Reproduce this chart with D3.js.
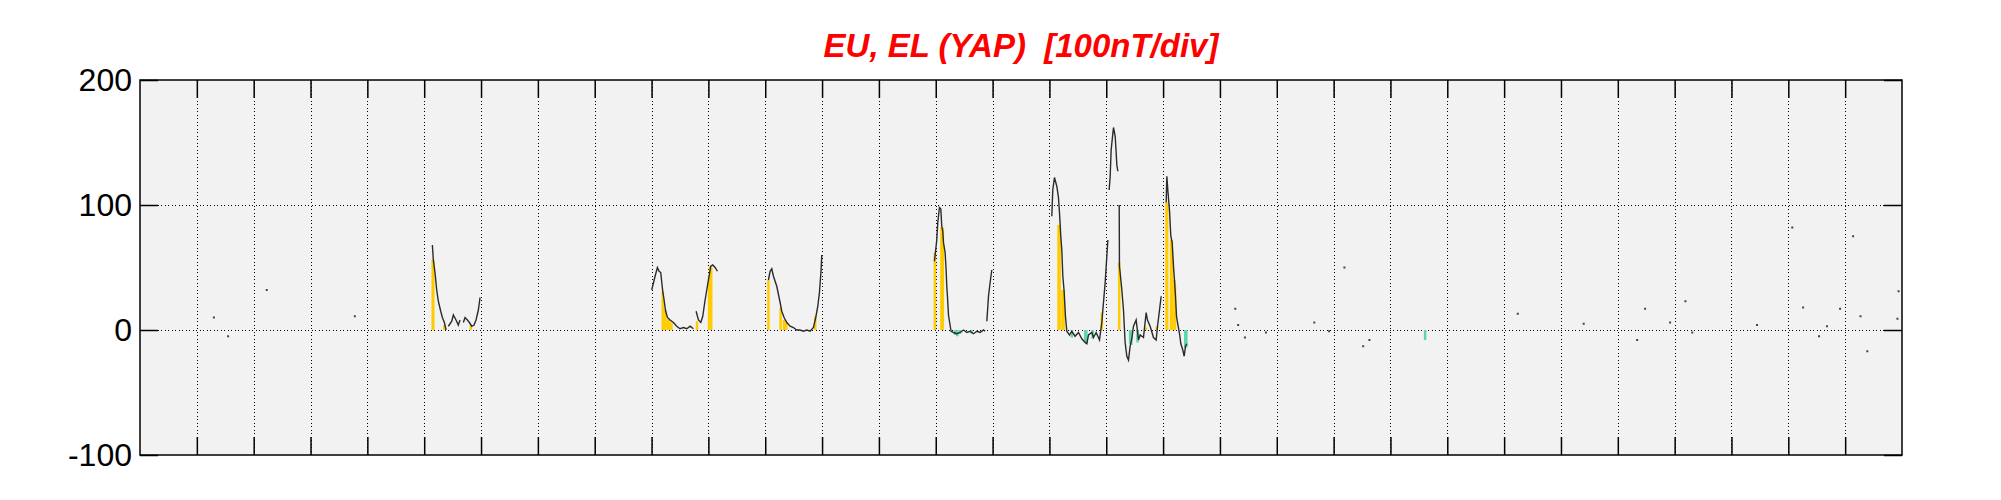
<!DOCTYPE html>
<html>
<head>
<meta charset="utf-8">
<script src="https://cdn.jsdelivr.net/npm/d3@7"></script>
<style>
  body { margin: 0; background: #fff; }
  text { font-family: "Liberation Sans", Arial, Helvetica, sans-serif; }
</style>
</head>
<body>
<svg id="chart" width="2001" height="500"></svg>
<script>
// Axis ticks
const dayTicks = d3.range(1, 31);
const nTTicks = [-100, 0, 100, 200];

// EU/EL trace (day of month, nT); null = data gap
const traceDay = [
  5.144, 5.161, 5.19, 5.22, 5.249, 5.291, 5.32, 5.355, 5.385, null, 5.425, 5.485, 5.513, 5.56, 5.6, 5.63, null, 5.689, 5.719, 5.76, 5.795, 5.837, 5.877, 5.912, 5.953, 5.983,
  null,
  9.003, 9.062, 9.103, 9.133, 9.162, 9.18, 9.197, 9.221, 9.244, 9.279, 9.326, 9.385, 9.443, 9.502, 9.561, 9.62, 9.678, 9.737, null, 9.784, 9.825, 9.866, 9.901, 9.942, 9.971, 10.012, 10.042, 10.077, 10.118, 10.159,
  null,
  11.056, 11.086, 11.115, 11.145, 11.174, 11.203, 11.262, 11.291, 11.332, 11.379, 11.438, 11.496, 11.555, 11.614, 11.672, 11.731, 11.79, 11.848, 11.889, 11.925, 11.954, 11.983, 11.995,
  null,
  13.977, 14.018, 14.036, 14.065, 14.089, 14.106, 14.124, 14.136, 14.165, 14.183, 14.194, 14.206, 14.224, 14.241, 14.27, 14.312, 14.37, 14.429, 14.488, 14.547, 14.605, 14.664, 14.723, 14.781, 14.84, 14.869, null, 14.899, 14.928, 14.957, 14.986,
  null,
  16.042, 16.059, 16.089, 16.13, 16.159, 16.177, 16.2, 16.218, 16.236, 16.259, 16.282, 16.306, 16.353, 16.394, 16.452, 16.511, 16.57, 16.628, 16.658, 16.687, 16.746, 16.775, 16.822, 16.881, 16.922, 16.951, 16.981, 17.01, 17.028,
  null, 17.051, 17.069, 17.086, 17.127, 17.157, 17.174, 17.186, 17.204,
  null, 17.228, 17.232, 17.244, 17.274, 17.303, 17.332, 17.362, 17.391, 17.42, 17.45, 17.479, 17.526, 17.567, 17.596, 17.655, 17.702, 17.725, 17.772, 17.831, 17.878, 17.902, 17.937, 17.966,
  null,
  18.054, 18.066, 18.083, 18.112, 18.136, 18.159, 18.183, 18.2, 18.218, 18.236, 18.253, 18.289, 18.312, 18.347, 18.371, 18.394, 18.418
];
const traceNT = [
  68, 56, 46, 32, 23, 15, 10, 6, 0, null, 3, 7, 12, 8, 4, 8, null, 6, 10, 8, 6, 3, 4, 8, 16, 26,
  null,
  32, 43, 50, 47, 46, 38, 31, 24, 16, 10, 8, 6, 3, 1, 2, 1, 3, 1, null, 15, 8, 6, 11, 24, 32, 43, 51, 52, 50, 47,
  null,
  40, 47, 49, 43, 39, 35, 22, 15, 10, 6, 3, 2, 0, 0, -1, 0, -1, 2, 10, 19, 30, 48, 60,
  null,
  55, 72, 86, 98, 97, 83, 79, 70, 62, 48, 35, 27, 12, 7, -1, -2, -3, -2, 0, -2, -1, -3, -1, -2, 0, -1, null, 7, 27, 38, 48,
  null,
  91, 112, 122, 115, 106, 94, 75, 64, 43, 31, 11, -1, -4, -1, -5, -2, -7, -10, -11, -4, -2, -6, -2, -8, 6, 22, 38, 59, 72,
  null, 112, 123, 144, 162, 155, 142, 132, 127,
  null, 100, 51, 46, 32, 16, -10, -21, -24, -13, -7, 3, 8, -8, -4, -6, 14, 8, 3, -6, -8, 3, 16, 27,
  null,
  102, 123, 112, 96, 75, 70, 51, 40, 27, 11, 6, -3, -11, -16, -21, -13, -11
];

// EU fill bars (yellow)
const euBarDay = [5.15, 5.16, 5.355, 5.82, 9.197, 9.24, 9.28, 9.31, 9.35, 9.8, 10.012, 10.03, 10.05,
  11.056, 11.27, 11.33, 11.37, 11.88, 13.985, 14.1, 14.125, 16.16, 16.18, 16.23, 16.25, 16.922, 17.228,
  17.7, 17.89, 18.06, 18.072, 18.14, 18.155, 18.2, 18.21];
const euBarNT = [56, 56, 4, 4, 31, 16, 9, 8, 6, 7, 43, 51, 50,
  40, 18, 8, 6, 11, 62, 82, 82, 84, 84, 32, 32, 14, 54,
  2, 3, 102, 102, 72, 72, 40, 35];

// EL fill bars (green)
const elBarDay = [14.34, 14.38, 14.43, 14.63, 16.394, 16.63, 16.65, 16.76, 17.42, 17.44, 17.55, 18.39, 18.41, 22.61];
const elBarNT = [-4, -5, -3, -3, -6, -10, -11, -7, -11, -12, -10, -14, -14, -8];

// isolated samples
const dotDay = [1.3, 1.55, 2.23, 3.78, 19.27, 19.32, 19.44, 19.81, 20.66, 20.92, 21.19, 21.52, 21.63, 24.24, 25.4,
  26.34, 26.48, 26.92, 27.19, 27.31, 28.45, 29.07, 29.26, 29.54, 29.68, 29.91, 30.14, 30.27, 30.39, 30.92, 30.94];
const dotNT = [10, -5, 32, 11, 17, 4, -6, -2, 6, -1, 50, -13, -8, 13, 5,
  -8, 17, 6, 23, -2, 4, 82, 18, -5, 3, 17, 75, 11, -17, 9, 31];

const svg = d3.select("#chart"),
  width = +svg.attr("width"),
  height = +svg.attr("height");
const margin = {top: 80, right: 99, bottom: 45, left: 140};
const innerH = height - margin.top - margin.bottom;
const innerW = width - margin.left - margin.right;

const x = d3.scaleLinear().domain([0, 31]).range([margin.left, width - margin.right]);
const y = d3.scaleLinear().domain([-100, 200]).range([height - margin.bottom, margin.top]);

// plot background
svg.append("rect")
  .attr("x", margin.left).attr("y", margin.top)
  .attr("width", innerW).attr("height", innerH)
  .attr("fill", "#f2f2f2");

// dotted grid
svg.append("g")
  .attr("transform", `translate(0,${height - margin.bottom})`)
  .call(d3.axisBottom(x).tickValues(dayTicks).tickSize(-innerH).tickFormat(""))
  .call(g => g.select(".domain").remove())
  .selectAll("line")
    .attr("stroke", "#000")
    .attr("stroke-dasharray", "1,2.5")
    .attr("shape-rendering", "crispEdges");
svg.append("g")
  .attr("transform", `translate(${margin.left},0)`)
  .call(d3.axisLeft(y).tickValues([0, 100]).tickSize(-innerW).tickFormat(""))
  .call(g => g.select(".domain").remove())
  .selectAll("line")
    .attr("stroke", "#000")
    .attr("stroke-dasharray", "1,2.5")
    .attr("shape-rendering", "crispEdges");

// bars
svg.append("g")
  .selectAll("line")
  .data(d3.zip(euBarDay, euBarNT))
  .enter()
  .append("line")
    .attr("x1", d => x(d[0])).attr("x2", d => x(d[0]))
    .attr("y1", y(0)).attr("y2", d => y(d[1]))
    .attr("stroke", "#ffcc00")
    .attr("stroke-width", 2.5);
svg.append("g")
  .selectAll("line")
  .data(d3.zip(elBarDay, elBarNT))
  .enter()
  .append("line")
    .attr("x1", d => x(d[0])).attr("x2", d => x(d[0]))
    .attr("y1", y(0)).attr("y2", d => y(d[1]))
    .attr("stroke", "#5fd6aa")
    .attr("stroke-width", 2.5);

// trace
const line = d3.line()
  .defined(d => d[0] != null && d[1] != null)
  .x(d => x(d[0]))
  .y(d => y(d[1]));
svg.append("path")
  .datum(d3.zip(traceDay, traceNT))
  .attr("d", line)
  .attr("fill", "none")
  .attr("stroke", "#2b2b2b")
  .attr("stroke-width", 1.4);

svg.append("g")
  .selectAll("rect")
  .data(d3.zip(dotDay, dotNT))
  .enter()
  .append("rect")
    .attr("x", d => x(d[0]) - 1).attr("y", d => y(d[1]) - 1)
    .attr("width", 2).attr("height", 2)
    .attr("fill", "#444");

// frame and ticks
svg.append("rect")
  .attr("x", margin.left).attr("y", margin.top)
  .attr("width", innerW).attr("height", innerH)
  .attr("fill", "none")
  .attr("stroke", "#000")
  .attr("stroke-width", 1.5);

const tickStyle = g => {
  g.select(".domain").remove();
  g.selectAll("line").attr("stroke", "#000").attr("stroke-width", 1.5);
};
svg.append("g")
  .attr("transform", `translate(0,${height - margin.bottom})`)
  .call(d3.axisBottom(x).tickValues(dayTicks).tickSizeInner(-18).tickFormat(""))
  .call(tickStyle);
svg.append("g")
  .attr("transform", `translate(0,${margin.top})`)
  .call(d3.axisTop(x).tickValues(dayTicks).tickSizeInner(-18).tickFormat(""))
  .call(tickStyle);
svg.append("g")
  .attr("transform", `translate(${width - margin.right},0)`)
  .call(d3.axisRight(y).tickValues(nTTicks).tickSizeInner(-18).tickFormat(""))
  .call(tickStyle);
svg.append("g")
  .attr("transform", `translate(${margin.left},0)`)
  .call(d3.axisLeft(y).tickValues(nTTicks).tickSizeInner(-18).tickPadding(8).tickFormat(d => String(d)))
  .call(tickStyle)
  .selectAll("text")
    .attr("font-size", 32)
    .attr("fill", "#000")
    .style("font-family", "'Liberation Sans', Arial, sans-serif");

// title
svg.append("text")
  .attr("x", (x(0) + x(31)) / 2)
  .attr("y", 57)
  .attr("text-anchor", "middle")
  .attr("font-size", 33)
  .attr("font-weight", "bold")
  .attr("font-style", "italic")
  .attr("fill", "#ff0000")
  .style("white-space", "pre")
  .text("EU, EL (YAP)  [100nT/div]");
</script>
</body>
</html>
